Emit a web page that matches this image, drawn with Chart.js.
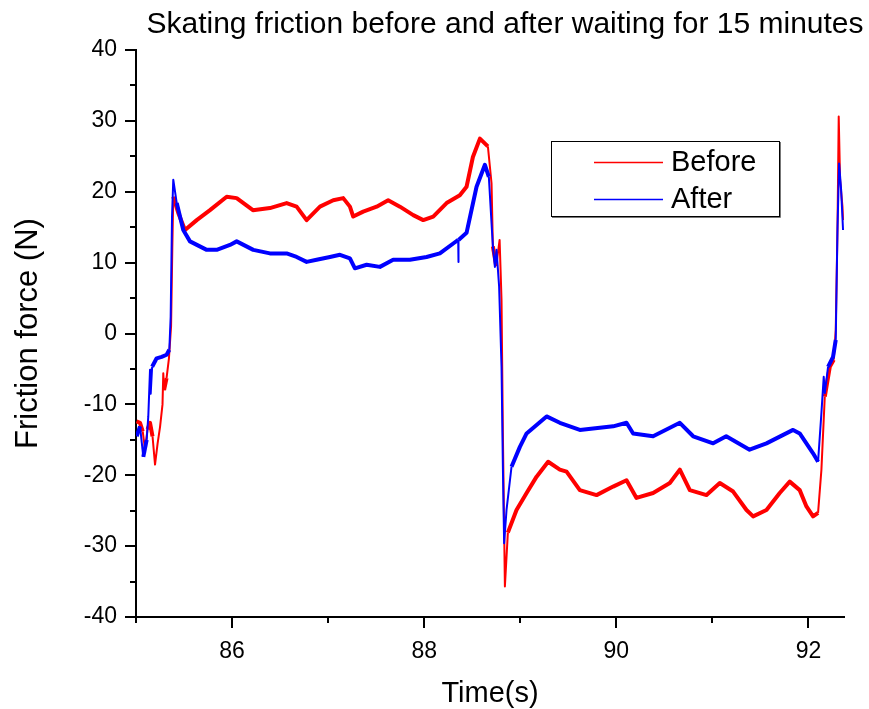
<!DOCTYPE html>
<html>
<head>
<meta charset="utf-8">
<title>Skating friction</title>
<script src="https://cdn.jsdelivr.net/npm/chart.js@4.4.1/dist/chart.umd.min.js"></script>
<style>
    body { margin: 0; background: #fff; }
    #wrap { width: 869px; height: 709px; }
</style>
</head>
<body>
<div id="wrap"><canvas id="frictionChart" width="869" height="709"></canvas></div>
<script>
// values (time in s, force in N)
const timeBefore = [85.005, 85.042, 85.070, 85.094, 85.120, 85.146, 85.172, 85.198, 85.225, 85.250, 85.276, 85.284, 85.292, 85.318, 85.343, 85.365, 85.378, 85.388, 85.440, 85.510, 85.632, 85.770, 85.944, 86.048, 86.217, 86.394, 86.568, 86.672, 86.776, 86.915, 87.053, 87.157, 87.227, 87.261, 87.365, 87.505, 87.625, 87.747, 87.886, 87.990, 88.094, 88.233, 88.371, 88.441, 88.507, 88.580, 88.663, 88.701, 88.715, 88.750, 88.785, 88.795, 88.805, 88.819, 88.840, 88.871, 88.961, 89.066, 89.170, 89.290, 89.412, 89.482, 89.620, 89.794, 89.967, 90.106, 90.210, 90.383, 90.557, 90.661, 90.765, 90.939, 91.077, 91.216, 91.355, 91.424, 91.563, 91.701, 91.805, 91.909, 91.979, 92.048, 92.100, 92.135, 92.170, 92.222, 92.263, 92.284, 92.302, 92.315, 92.329, 92.354, 92.360];
const forceBefore = [-12.4, -12.6, -13.8, -16.4, -13.5, -12.6, -14.5, -18.5, -15.5, -13.2, -10.0, -5.6, -8.0, -6.3, -3.5, 1.0, 12.0, 19.3, 17.0, 14.6, 16.0, 17.4, 19.3, 19.1, 17.4, 17.7, 18.4, 17.9, 16.0, 17.9, 18.8, 19.1, 17.9, 16.5, 17.2, 17.9, 18.8, 17.9, 16.7, 16.0, 16.5, 18.4, 19.5, 20.7, 24.9, 27.5, 26.4, 21.2, 12.3, 9.5, 13.2, 9.0, 4.7, -14.0, -35.7, -28.1, -24.9, -22.5, -20.2, -18.1, -19.2, -19.5, -22.1, -22.8, -21.6, -20.7, -23.2, -22.5, -21.1, -19.2, -22.1, -22.8, -21.1, -22.3, -24.9, -25.8, -24.9, -22.5, -20.9, -22.1, -24.4, -25.8, -25.3, -19.2, -8.9, -4.7, -3.7, 0.5, 14.6, 30.6, 21.7, 17.9, 16.0];

const timeAfter = [85.007, 85.042, 85.076, 85.111, 85.128, 85.146, 85.153, 85.168, 85.215, 85.267, 85.319, 85.347, 85.361, 85.375, 85.388, 85.424, 85.492, 85.562, 85.736, 85.840, 85.978, 86.048, 86.221, 86.394, 86.568, 86.672, 86.776, 86.880, 87.019, 87.123, 87.227, 87.279, 87.401, 87.539, 87.677, 87.851, 88.025, 88.163, 88.302, 88.354, 88.356, 88.358, 88.441, 88.545, 88.632, 88.673, 88.715, 88.736, 88.753, 88.780, 88.805, 88.819, 88.832, 88.857, 88.909, 88.996, 89.066, 89.170, 89.274, 89.412, 89.620, 89.967, 90.106, 90.175, 90.383, 90.661, 90.800, 91.008, 91.144, 91.387, 91.563, 91.840, 91.909, 92.048, 92.100, 92.135, 92.159, 92.170, 92.204, 92.256, 92.284, 92.302, 92.319, 92.340, 92.360];
const forceAfter = [-14.5, -13.1, -17.4, -15.0, -11.7, -5.1, -8.5, -4.7, -3.5, -3.3, -3.0, -2.3, 2.4, 16.5, 21.7, 18.4, 14.6, 13.0, 11.8, 11.8, 12.5, 13.0, 11.8, 11.3, 11.3, 10.8, 10.1, 10.4, 10.8, 11.1, 10.6, 9.2, 9.7, 9.4, 10.4, 10.4, 10.8, 11.3, 12.7, 13.2, 10.1, 13.2, 14.2, 20.7, 23.8, 22.1, 12.3, 9.4, 11.8, 6.6, -4.7, -18.8, -29.6, -24.9, -18.8, -16.0, -14.1, -12.9, -11.7, -12.6, -13.6, -13.1, -12.6, -14.1, -14.5, -12.6, -14.5, -15.5, -14.5, -16.4, -15.5, -13.6, -14.1, -16.9, -18.1, -11.2, -6.1, -8.4, -4.7, -3.3, -0.9, 14.6, 24.0, 20.3, 14.6];

const seriesNames = ['Before', 'After'];
const seriesColors = ['#ff0000', '#0000ff'];
const xTickLabels = [86, 88, 90, 92];
const yTickLabels = [-40, -30, -20, -10, 0, 10, 20, 30, 40];

const toPoints = (ts, vs) => ts.map((t, i) => ({ x: t, y: vs[i] }));

// noisy flat parts look like a thick band, the steep jumps are thin
const bandWidth = (c) => {
    const dx = c.p1.parsed.x - c.p0.parsed.x;
    const dy = Math.abs(c.p1.parsed.y - c.p0.parsed.y);
    return dy / dx > 90 ? 2 : 4;
};

const titlePlugin = {
    id: 'topTitle',
    afterDraw(chart) {
        const ctx = chart.ctx;
        ctx.save();
        ctx.fillStyle = '#000';
        ctx.font = '30px "Liberation Sans", Arial, sans-serif';
        ctx.textAlign = 'center';
        ctx.textBaseline = 'alphabetic';
        ctx.fillText('Skating friction before and after waiting for 15 minutes', 505, 33);
        ctx.restore();
    }
};

// short minor ticks between the labelled ones
const minorTicks = {
    id: 'minorTicks',
    afterDraw(chart) {
        const ctx = chart.ctx;
        const xs = chart.scales.x, ys = chart.scales.y;
        ctx.save();
        ctx.strokeStyle = '#000';
        ctx.lineWidth = 2;
        ctx.beginPath();
        xs.ticks.forEach(t => {
            if (!xTickLabels.includes(t.value)) {
                const px = Math.round(xs.getPixelForValue(t.value));
                ctx.moveTo(px, xs.top);
                ctx.lineTo(px, xs.top + 6);
            }
        });
        ys.ticks.forEach(t => {
            if (!yTickLabels.includes(t.value)) {
                const py = Math.round(ys.getPixelForValue(t.value));
                ctx.moveTo(ys.right, py);
                ctx.lineTo(ys.right - 6, py);
            }
        });
        ctx.stroke();
        ctx.restore();
    }
};

// framed legend inside the plot, like the original
const boxLegend = {
    id: 'boxLegend',
    afterDraw(chart) {
        const ctx = chart.ctx;
        ctx.save();
        ctx.fillStyle = '#fff';
        ctx.fillRect(552, 142, 228, 75);
        ctx.strokeStyle = '#000';
        ctx.lineWidth = 1;
        ctx.strokeRect(551.5, 141.5, 228, 75);
        ctx.strokeStyle = '#777';
        ctx.beginPath();
        ctx.moveTo(780.5, 142); ctx.lineTo(780.5, 217.5); ctx.lineTo(552, 217.5);
        ctx.stroke();
        ctx.font = '29px "Liberation Sans", Arial, sans-serif';
        ctx.textBaseline = 'middle';
        ctx.textAlign = 'left';
        seriesNames.forEach((name, i) => {
            const y = 162 + i * 37;
            ctx.strokeStyle = seriesColors[i];
            ctx.lineWidth = 1.5;
            ctx.beginPath();
            ctx.moveTo(594, y + 0.5);
            ctx.lineTo(663, y + 0.5);
            ctx.stroke();
            ctx.fillStyle = '#000';
            ctx.fillText(name, 671, y + 1);
        });
        ctx.restore();
    }
};

Chart.defaults.font.family = '"Liberation Sans", Arial, sans-serif';
Chart.defaults.color = '#000';

const ctx = document.getElementById('frictionChart');

new Chart(ctx, {
    type: 'line',
    data: {
        datasets: [{
            label: seriesNames[0],
            data: toPoints(timeBefore, forceBefore),
            borderColor: seriesColors[0],
            borderWidth: 4,
            borderJoinStyle: 'round',
            pointRadius: 0,
            tension: 0,
            order: 2,
            segment: { borderWidth: bandWidth }
        }, {
            label: seriesNames[1],
            data: toPoints(timeAfter, forceAfter),
            borderColor: seriesColors[1],
            borderWidth: 4,
            borderJoinStyle: 'round',
            pointRadius: 0,
            tension: 0,
            order: 1,
            segment: { borderWidth: bandWidth }
        }]
    },
    options: {
        responsive: false,
        animation: false,
        layout: {
            padding: { top: 50, right: 25, left: 0, bottom: 0 }
        },
        plugins: {
            legend: { display: false },
            tooltip: { enabled: false }
        },
        scales: {
            x: {
                type: 'linear',
                min: 85,
                max: 92.37,
                afterFit: (s) => { s.height = 92; },
                border: { display: true, color: '#000', width: 2 },
                grid: {
                    drawOnChartArea: false,
                    drawTicks: true,
                    tickLength: 11,
                    lineWidth: 2,
                    tickColor: (c) => (c.tick && xTickLabels.includes(c.tick.value)) ? '#000' : 'rgba(0,0,0,0)'
                },
                ticks: {
                    stepSize: 1,
                    includeBounds: false,
                    autoSkip: false,
                    maxRotation: 0,
                    padding: 10,
                    font: { size: 23 },
                    callback: (v) => xTickLabels.includes(v) ? String(v) : ''
                },
                title: {
                    display: true,
                    text: 'Time(s)',
                    font: { size: 29, lineHeight: 1 },
                    padding: { top: 0, bottom: 1 }
                }
            },
            y: {
                min: -40,
                max: 40,
                afterFit: (s) => { s.width = 136; },
                border: { display: true, color: '#000', width: 2 },
                grid: {
                    drawOnChartArea: false,
                    drawTicks: true,
                    tickLength: 11,
                    lineWidth: 2,
                    tickColor: (c) => (c.tick && yTickLabels.includes(c.tick.value)) ? '#000' : 'rgba(0,0,0,0)'
                },
                ticks: {
                    stepSize: 5,
                    autoSkip: false,
                    padding: 8,
                    font: { size: 23 },
                    callback: (v) => yTickLabels.includes(v) ? String(v) : ''
                },
                title: {
                    display: true,
                    text: 'Friction force (N)',
                    font: { size: 31, lineHeight: 1 },
                    padding: { top: 13, bottom: 0 }
                }
            }
        }
    },
    plugins: [titlePlugin, minorTicks, boxLegend]
});
</script>
</body>
</html>
